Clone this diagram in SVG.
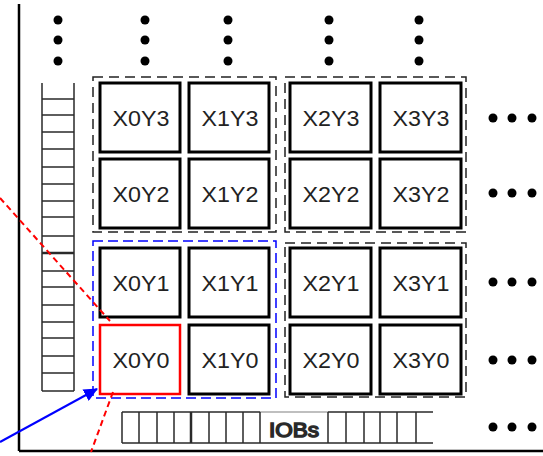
<svg xmlns="http://www.w3.org/2000/svg" width="543" height="456" viewBox="0 0 543 456">
<defs>
<style>
.tile{fill:#fff;stroke:#000;stroke-width:3}
.sel{fill:#fff;stroke:#ff0000;stroke-width:2.5}
.lbl{font-family:"Liberation Sans",Arial,sans-serif;font-size:22px;fill:#222;text-anchor:middle}
.dot{fill:#000}
.grp{fill:none;stroke:#222;stroke-width:1.5;stroke-dasharray:10 6}
.grpb{fill:none;stroke:#0000ff;stroke-width:1.5;stroke-dasharray:10 5}
.iob{fill:none;stroke:#2a2a2a;stroke-width:1.5}
.red{fill:none;stroke:#ff0000;stroke-width:2;stroke-dasharray:6 4}
</style>
<marker id="ah" markerWidth="14" markerHeight="13" refX="13" refY="6.5" orient="auto" markerUnits="userSpaceOnUse" viewBox="0 0 14 13">
<path d="M0,0 L14,6.5 L0,13 z" fill="#0000ff"/>
</marker>
</defs>
<rect width="543" height="456" fill="#fff"/>
<g id="frame" stroke="#000" stroke-width="2.5" fill="none">
<line x1="19" y1="4" x2="19" y2="451"/>
<line x1="19" y1="451" x2="543" y2="451"/>
</g>
<g id="dots-top" class="dot">
<circle cx="58" cy="20" r="4.5"/><circle cx="58" cy="40" r="4.5"/><circle cx="58" cy="61" r="4.5"/>
<circle cx="145" cy="20" r="4.5"/><circle cx="145" cy="40" r="4.5"/><circle cx="145" cy="61" r="4.5"/>
<circle cx="228" cy="20" r="4.5"/><circle cx="228" cy="40" r="4.5"/><circle cx="228" cy="61" r="4.5"/>
<circle cx="329" cy="20" r="4.5"/><circle cx="329" cy="40" r="4.5"/><circle cx="329" cy="61" r="4.5"/>
<circle cx="419" cy="20" r="4.5"/><circle cx="419" cy="40" r="4.5"/><circle cx="419" cy="61" r="4.5"/>
</g>
<g id="dots-right" class="dot">
<circle cx="493" cy="118" r="4.5"/><circle cx="512" cy="118" r="4.5"/><circle cx="532" cy="118" r="4.5"/>
<circle cx="493" cy="193" r="4.5"/><circle cx="512" cy="193" r="4.5"/><circle cx="532" cy="193" r="4.5"/>
<circle cx="493" cy="282" r="4.5"/><circle cx="512" cy="282" r="4.5"/><circle cx="532" cy="282" r="4.5"/>
<circle cx="493" cy="360" r="4.5"/><circle cx="512" cy="360" r="4.5"/><circle cx="532" cy="360" r="4.5"/>
<circle cx="493" cy="427" r="4.5"/><circle cx="512" cy="427" r="4.5"/><circle cx="532" cy="427" r="4.5"/>
</g>
<g id="iob-left" class="iob">
<path d="M42,83 V391 M74,83 V391 M42,391 H74"/>
<path d="M42,99H74 M42,115H74 M42,132H74 M42,149H74 M42,167H74 M42,184H74 M42,201H74 M42,217H74 M42,236H74 M42,271H74 M42,287H74 M42,305H74 M42,322H74 M42,338H74 M42,356H74 M42,373H74"/>
<path d="M42,253H74" stroke-width="2.5"/>
</g>
<g id="iob-bottom" class="iob">
<path d="M122,412 H260 M328,412 H433 M122,443 H433"/>
<path d="M260,412 H328" stroke="#aaa"/>
<path d="M122,412V443 M139,412V443 M157,412V443 M174,412V443 M209,412V443 M226,412V443 M243,412V443 M260,412V443 M328,412V443 M346,412V443 M364,412V443 M380,412V443 M397,412V443 M416,412V443"/>
<path d="M191,412V443" stroke-width="2.5"/>
<text x="294" y="437" font-family="Liberation Sans, Arial, sans-serif" font-size="20" fill="#222" text-anchor="middle" textLength="50" lengthAdjust="spacingAndGlyphs">IOBs</text>
</g>
<g id="groups">
<rect class="grp" x="93" y="77" width="183" height="155"/>
<rect class="grp" x="285" y="77" width="181" height="155"/>
<rect class="grpb" x="93" y="241" width="183" height="157"/>
<rect class="grp" x="285" y="243" width="181" height="154"/>
</g>
<g id="X0Y3"><rect class="tile" x="100" y="83" width="80" height="69"/><text class="lbl" x="141" y="126" textLength="57" lengthAdjust="spacingAndGlyphs">X0Y3</text></g>
<g id="X1Y3"><rect class="tile" x="189" y="83" width="80" height="69"/><text class="lbl" x="230" y="126" textLength="57" lengthAdjust="spacingAndGlyphs">X1Y3</text></g>
<g id="X2Y3"><rect class="tile" x="290" y="83" width="81" height="69"/><text class="lbl" x="331" y="126" textLength="57" lengthAdjust="spacingAndGlyphs">X2Y3</text></g>
<g id="X3Y3"><rect class="tile" x="380" y="83" width="81" height="69"/><text class="lbl" x="421" y="126" textLength="57" lengthAdjust="spacingAndGlyphs">X3Y3</text></g>
<g id="X0Y2"><rect class="tile" x="100" y="159" width="80" height="69"/><text class="lbl" x="141" y="202" textLength="57" lengthAdjust="spacingAndGlyphs">X0Y2</text></g>
<g id="X1Y2"><rect class="tile" x="189" y="159" width="80" height="69"/><text class="lbl" x="230" y="202" textLength="57" lengthAdjust="spacingAndGlyphs">X1Y2</text></g>
<g id="X2Y2"><rect class="tile" x="290" y="159" width="81" height="69"/><text class="lbl" x="331" y="202" textLength="57" lengthAdjust="spacingAndGlyphs">X2Y2</text></g>
<g id="X3Y2"><rect class="tile" x="380" y="159" width="81" height="69"/><text class="lbl" x="421" y="202" textLength="57" lengthAdjust="spacingAndGlyphs">X3Y2</text></g>
<g id="X0Y1"><rect class="tile" x="100" y="248" width="80" height="69"/><text class="lbl" x="141" y="291" textLength="57" lengthAdjust="spacingAndGlyphs">X0Y1</text></g>
<g id="X1Y1"><rect class="tile" x="189" y="248" width="80" height="69"/><text class="lbl" x="230" y="291" textLength="57" lengthAdjust="spacingAndGlyphs">X1Y1</text></g>
<g id="X2Y1"><rect class="tile" x="290" y="248" width="81" height="69"/><text class="lbl" x="331" y="291" textLength="57" lengthAdjust="spacingAndGlyphs">X2Y1</text></g>
<g id="X3Y1"><rect class="tile" x="380" y="248" width="81" height="69"/><text class="lbl" x="421" y="291" textLength="57" lengthAdjust="spacingAndGlyphs">X3Y1</text></g>
<g id="X0Y0"><rect class="sel" x="100" y="325" width="80" height="69"/><text class="lbl" x="141" y="368" textLength="57" lengthAdjust="spacingAndGlyphs">X0Y0</text></g>
<g id="X1Y0"><rect class="tile" x="189" y="325" width="80" height="69"/><text class="lbl" x="230" y="368" textLength="57" lengthAdjust="spacingAndGlyphs">X1Y0</text></g>
<g id="X2Y0"><rect class="tile" x="290" y="325" width="81" height="69"/><text class="lbl" x="331" y="368" textLength="57" lengthAdjust="spacingAndGlyphs">X2Y0</text></g>
<g id="X3Y0"><rect class="tile" x="380" y="325" width="81" height="69"/><text class="lbl" x="421" y="368" textLength="57" lengthAdjust="spacingAndGlyphs">X3Y0</text></g>
<g id="connectors">
<line class="red" x1="0" y1="198" x2="110" y2="321"/>
<line class="red" x1="113" y1="392" x2="91" y2="452"/>
<line x1="0" y1="442" x2="97" y2="389" stroke="#0000ff" stroke-width="2" marker-end="url(#ah)"/>
</g>
</svg>
